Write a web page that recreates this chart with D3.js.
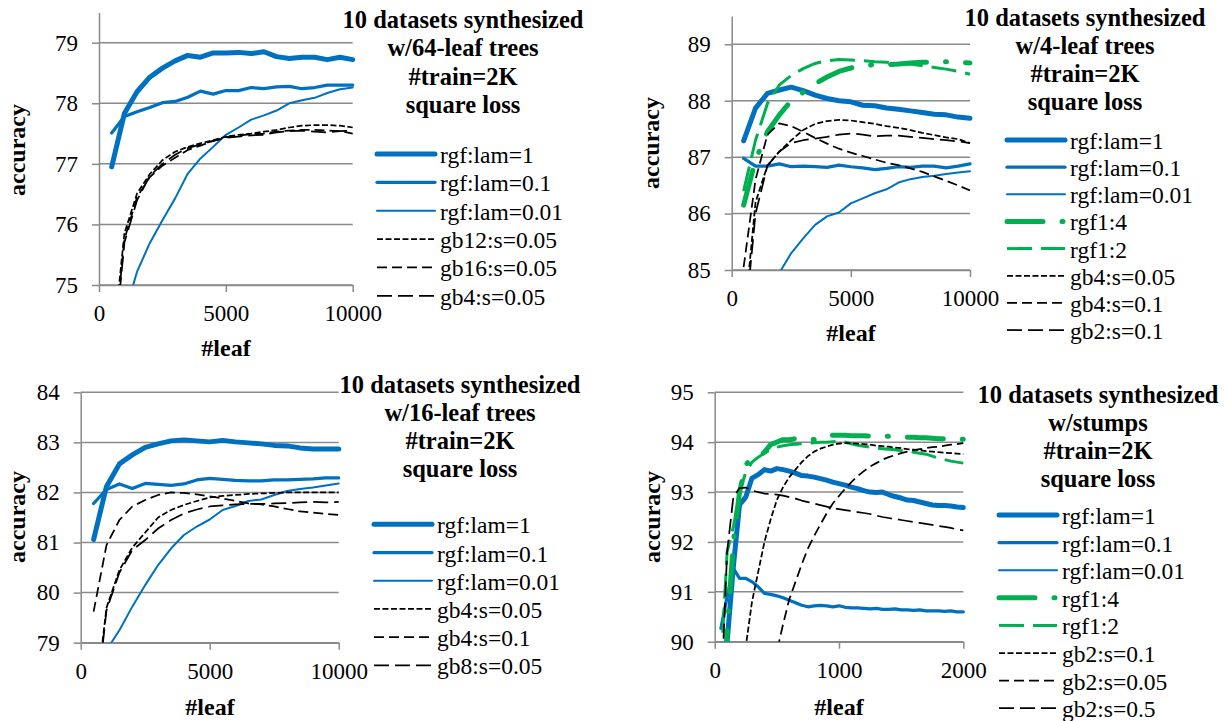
<!DOCTYPE html>
<html>
<head>
<meta charset="utf-8">
<script src="https://cdn.jsdelivr.net/npm/d3@7"></script>
<style>
body { margin: 0; background: #fff; }
svg text { font-family: "Liberation Serif", "DejaVu Serif", "Times New Roman", serif !important; }
</style>
</head>
<body>
<svg id="chart" width="1227" height="721" font-family="Liberation Serif, serif"></svg>
<script>
// x values (#leaf)
const leaves10k = [500, 1000, 1500, 2000, 2500, 3000, 3500, 4000, 4500, 5000,
  5500, 6000, 6500, 7000, 7500, 8000, 8500, 9000, 9500, 10000];
const leaves2k = [50, 100, 150, 200, 250, 300, 350, 400, 450, 500, 550, 600, 650, 700, 750,
  800, 850, 900, 950, 1000, 1050, 1100, 1150, 1200, 1250, 1300, 1350, 1400, 1450, 1500,
  1550, 1600, 1650, 1700, 1750, 1800, 1850, 1900, 1950, 2000];

// panel 1: 64-leaf trees
const leaf64Labels = ["rgf:lam=1", "rgf:lam=0.1", "rgf:lam=0.01", "gb12:s=0.05", "gb16:s=0.05", "gb4:s=0.05"];
const leaf64_rgf1 = [76.95, 77.83, 78.19, 78.43, 78.58, 78.70, 78.79, 78.76, 78.83, 78.83, 78.84, 78.82, 78.85, 78.77, 78.74, 78.76, 78.76, 78.72, 78.76, 78.72];
const leaf64_rgf01 = [77.51, 77.78, 77.86, 77.93, 78.01, 78.03, 78.10, 78.20, 78.15, 78.21, 78.21, 78.26, 78.24, 78.27, 78.28, 78.24, 78.26, 78.30, 78.30, 78.30];
const leaf64_rgf001 = [73.5, 74.5, 75.22, 75.69, 76.07, 76.43, 76.84, 77.09, 77.28, 77.48, 77.60, 77.73, 77.80, 77.88, 78.00, 78.05, 78.09, 78.17, 78.23, 78.26];
const leaf64_gb12 = [73.8, 75.85, 76.51, 76.83, 77.06, 77.20, 77.28, 77.34, 77.39, 77.45, 77.48, 77.50, 77.53, 77.56, 77.60, 77.63, 77.64, 77.64, 77.63, 77.60];
const leaf64_gb16 = [73.6, 75.75, 76.45, 76.78, 76.97, 77.10, 77.23, 77.30, 77.38, 77.44, 77.47, 77.49, 77.50, 77.53, 77.55, 77.56, 77.56, 77.55, 77.54, 77.50];
const leaf64_gb4 = [73.5, 75.7, 76.4, 76.8, 77.0, 77.15, 77.26, 77.32, 77.38, 77.43, 77.45, 77.47, 77.48, 77.52, 77.54, 77.55, 77.53, 77.52, 77.54, 77.55];

// panel 2: 4-leaf trees
const leaf4Labels = ["rgf:lam=1", "rgf:lam=0.1", "rgf:lam=0.01", "rgf1:4", "rgf1:2", "gb4:s=0.05", "gb4:s=0.1", "gb2:s=0.1"];
const leaf4_rgf1 = [87.29, 87.87, 88.13, 88.19, 88.24, 88.18, 88.10, 88.04, 88.00, 87.98, 87.92, 87.91, 87.87, 87.85, 87.82, 87.79, 87.76, 87.75, 87.71, 87.69];
const leaf4_rgf01 = [86.98, 86.84, 86.84, 86.88, 86.83, 86.84, 86.83, 86.82, 86.86, 86.83, 86.81, 86.78, 86.80, 86.83, 86.82, 86.84, 86.84, 86.81, 86.84, 86.88];
const leaf4_rgf001 = [83.8, 84.2, 84.6, 84.95, 85.30, 85.56, 85.80, 85.95, 86.02, 86.18, 86.27, 86.36, 86.43, 86.55, 86.61, 86.65, 86.67, 86.70, 86.73, 86.75];
const leaf4_rgf1_4 = [86.15, 86.95, 87.45, 87.75, 88.0, 88.15, 88.3, 88.42, 88.52, 88.58, 88.62, 88.64, 88.64, 88.65, 88.67, 88.68, 88.69, 88.69, 88.68, 88.67];
const leaf4_rgf1_2 = [86.4, 87.3, 87.95, 88.28, 88.45, 88.57, 88.66, 88.71, 88.73, 88.72, 88.71, 88.69, 88.68, 88.66, 88.65, 88.62, 88.59, 88.56, 88.52, 88.47];
const leaf4_gb4_005 = [84.0, 86.2, 86.85, 87.1, 87.3, 87.48, 87.59, 87.64, 87.66, 87.65, 87.62, 87.59, 87.55, 87.52, 87.48, 87.43, 87.39, 87.35, 87.32, 87.25];
const leaf4_gb4_01 = [85.05, 86.6, 87.4, 87.6, 87.55, 87.45, 87.34, 87.24, 87.15, 87.08, 87.02, 86.96, 86.9, 86.86, 86.8, 86.74, 86.66, 86.58, 86.5, 86.41];
const leaf4_gb2_01 = [83.8, 86.0, 86.85, 87.1, 87.25, 87.3, 87.33, 87.36, 87.4, 87.42, 87.4, 87.37, 87.38, 87.38, 87.36, 87.34, 87.32, 87.3, 87.28, 87.25];

// panel 3: 16-leaf trees
const leaf16Labels = ["rgf:lam=1", "rgf:lam=0.1", "rgf:lam=0.01", "gb4:s=0.05", "gb4:s=0.1", "gb8:s=0.05"];
const leaf16_rgf1 = [81.06, 82.12, 82.57, 82.75, 82.90, 82.97, 83.03, 83.05, 83.03, 83.01, 83.04, 83.01, 82.99, 82.97, 82.94, 82.93, 82.89, 82.87, 82.87, 82.87];
const leaf16_rgf01 = [81.78, 82.06, 82.17, 82.08, 82.18, 82.16, 82.14, 82.17, 82.25, 82.28, 82.26, 82.24, 82.23, 82.23, 82.25, 82.25, 82.26, 82.27, 82.29, 82.29];
const leaf16_rgf001 = [77.8, 78.85, 79.25, 79.72, 80.15, 80.55, 80.88, 81.15, 81.32, 81.46, 81.65, 81.73, 81.83, 81.86, 81.95, 82.03, 82.07, 82.10, 82.14, 82.18];
const leaf16_gb4_005 = [77.5, 79.7, 80.45, 80.9, 81.2, 81.5, 81.65, 81.75, 81.83, 81.9, 81.93, 81.95, 81.97, 81.98, 81.99, 82.0, 82.0, 82.0, 82.0, 82.0];
const leaf16_gb4_01 = [79.62, 80.95, 81.45, 81.72, 81.85, 81.95, 82.0, 81.99, 81.96, 81.92, 81.88, 81.83, 81.78, 81.76, 81.72, 81.67, 81.62, 81.6, 81.57, 81.55];
const leaf16_gb8_005 = [77.3, 79.65, 80.4, 80.85, 81.05, 81.28, 81.45, 81.58, 81.66, 81.72, 81.74, 81.76, 81.77, 81.77, 81.78, 81.79, 81.8, 81.81, 81.8, 81.81];

// panel 4: stumps
const stumpLabels = ["rgf:lam=1", "rgf:lam=0.1", "rgf:lam=0.01", "rgf1:4", "rgf1:2", "gb2:s=0.1", "gb2:s=0.05", "gb2:s=0.5"];
const stump_rgf1 = [88.5, 90.0, 91.5, 92.75, 92.9, 93.28, 93.35, 93.45, 93.42, 93.47, 93.45, 93.42, 93.38, 93.33, 93.32, 93.3, 93.27, 93.24, 93.2, 93.17,
  93.14, 93.1, 93.07, 93.03, 93.0, 92.99, 93.0, 92.95, 92.91, 92.88, 92.84, 92.83, 92.8, 92.77, 92.74, 92.73, 92.73, 92.72, 92.7, 92.69];
const stump_rgf01 = [90.27, 90.9, 91.47, 91.27, 91.27, 91.2, 91.1, 90.97, 90.95, 90.92, 90.88, 90.83, 90.78, 90.73, 90.70, 90.72, 90.73, 90.72, 90.70, 90.72,
  90.69, 90.68, 90.68, 90.67, 90.66, 90.67, 90.65, 90.65, 90.66, 90.64, 90.64, 90.63, 90.64, 90.62, 90.62, 90.62, 90.61, 90.62, 90.60, 90.60];
const stump_rgf001 = [80.5, 82.0, 83.1, 84.0, 84.7, 85.3, 85.8, 86.2, 86.6, 86.9, 87.1, 87.3, 87.5, 87.7, 87.8, 87.9, 88.0, 88.1, 88.2, 88.3,
  88.35, 88.4, 88.45, 88.5, 88.55, 88.6, 88.65, 88.7, 88.72, 88.75, 88.78, 88.8, 88.83, 88.85, 88.87, 88.9, 88.92, 88.94, 88.96, 88.98];
const stump_rgf1_4 = [88.0, 90.2, 92.0, 93.0, 93.55, 93.68, 93.7, 93.8, 93.95, 94.0, 94.05, 94.05, 94.07, 94.08, 94.06, 94.05, 94.1, 94.14, 94.14, 94.14,
  94.14, 94.13, 94.13, 94.13, 94.12, 94.12, 94.12, 94.12, 94.11, 94.11, 94.1, 94.1, 94.09, 94.09, 94.08, 94.07, 94.07, 94.06, 94.06, 94.06];
const stump_rgf1_2 = [89.5, 91.8, 92.3, 93.0, 93.4, 93.6, 93.7, 93.78, 93.85, 93.9, 93.93, 93.95, 93.96, 93.97, 93.98, 93.99, 94.0, 94.0, 94.01, 94.02,
  94.0, 93.97, 93.94, 93.92, 93.9, 93.88, 93.87, 93.86, 93.85, 93.83, 93.82, 93.8, 93.78, 93.76, 93.72, 93.68, 93.65, 93.62, 93.6, 93.58];
const stump_gb2_01 = [81.0, 84.0, 86.5, 88.5, 89.9, 90.8, 91.4, 92.0, 92.45, 92.84, 93.1, 93.3, 93.45, 93.6, 93.72, 93.81, 93.87, 93.91, 93.95, 93.97,
  93.98, 93.98, 93.97, 93.96, 93.95, 93.93, 93.92, 93.91, 93.89, 93.88, 93.86, 93.85, 93.84, 93.82, 93.81, 93.8, 93.79, 93.78, 93.77, 93.76];
const stump_gb2_005 = [80.0, 81.5, 83.0, 84.5, 85.8, 86.8, 87.7, 88.5, 89.2, 89.8, 90.35, 90.85, 91.2, 91.55, 91.87, 92.12, 92.35, 92.57, 92.77, 92.92,
  93.07, 93.2, 93.32, 93.42, 93.51, 93.58, 93.65, 93.7, 93.74, 93.78, 93.81, 93.84, 93.86, 93.88, 93.9, 93.91, 93.93, 93.95, 93.96, 93.98];
const stump_gb2_05 = [88.8, 91.8, 92.9, 93.08, 93.09, 93.03, 93.0, 92.97, 92.96, 92.95, 92.93, 92.9, 92.87, 92.83, 92.8, 92.77, 92.74, 92.71, 92.68, 92.66,
  92.64, 92.62, 92.6, 92.58, 92.56, 92.53, 92.5, 92.48, 92.46, 92.44, 92.42, 92.4, 92.38, 92.36, 92.34, 92.32, 92.3, 92.28, 92.25, 92.23];

const titles = [
  ["10 datasets synthesized", "w/64-leaf trees", "#train=2K", "square loss"],
  ["10 datasets synthesized", "w/4-leaf trees", "#train=2K", "square loss"],
  ["10 datasets synthesized", "w/16-leaf trees", "#train=2K", "square loss"],
  ["10 datasets synthesized", "w/stumps", "#train=2K", "square loss"]
];

const blue = "#0070c0", green = "#00b050", black = "#000";
const gridColor = "#8a8a8a";
const serif = "Liberation Serif, DejaVu Serif, serif";

const styles = {
  lam1:  { color: blue, width: 5, dash: null, cap: "round" },
  lam01: { color: blue, width: 3.25, dash: null, cap: "round" },
  lam001:{ color: blue, width: 2, dash: null, cap: "round" },
  r14:   { color: green, width: 5, dash: "36 19 1 19", cap: "round" },
  r12:   { color: green, width: 3, dash: "25 9", cap: "butt" },
  gbA:   { color: black, width: 1.75, dash: "6 2.5", cap: "butt" },
  gbB:   { color: black, width: 1.75, dash: "10 5", cap: "butt" },
  gbC:   { color: black, width: 1.75, dash: "15 6", cap: "butt" }
};

const panels = [
  { title: titles[0], titleX: 463, titleY: 28, titleStep: 28.4,
    x0: 99, x1: 352.7, xDomain: [0, 10000], xTicks: [0, 5000, 10000],
    yDomain: [75, 79.5], yRange: [285, 12.4], yTicks: [75, 76, 77, 78, 79],
    yLabel: [17, 150], xLabel: [226, 348],
    legX: 375, legY: 154, legStep: 28.35,
    leaves: leaves10k, labels: leaf64Labels,
    series: [[leaf64_rgf1, "lam1"], [leaf64_rgf01, "lam01"], [leaf64_rgf001, "lam001"],
             [leaf64_gb12, "gbA"], [leaf64_gb16, "gbB"], [leaf64_gb4, "gbC"]] },
  { title: titles[1], titleX: 1085, titleY: 26, titleStep: 28,
    x0: 731.7, x1: 970, xDomain: [0, 10000], xTicks: [0, 5000, 10000],
    yDomain: [85, 89.5], yRange: [270, 16.1], yTicks: [85, 86, 87, 88, 89],
    yLabel: [651, 143], xLabel: [851, 333],
    legX: 1005, legY: 140, legStep: 27.15,
    leaves: leaves10k, labels: leaf4Labels,
    series: [[leaf4_rgf1, "lam1"], [leaf4_rgf01, "lam01"], [leaf4_rgf001, "lam001"],
             [leaf4_rgf1_4, "r14"], [leaf4_rgf1_2, "r12"],
             [leaf4_gb4_005, "gbA"], [leaf4_gb4_01, "gbB"], [leaf4_gb2_01, "gbC"]] },
  { title: titles[2], titleX: 460, titleY: 393.3, titleStep: 28,
    x0: 80.7, x1: 338.7, xDomain: [0, 10000], xTicks: [0, 5000, 10000],
    yDomain: [79, 84], yRange: [642.7, 392.3], yTicks: [79, 80, 81, 82, 83, 84],
    yLabel: [17, 517], xLabel: [210, 707],
    legX: 372, legY: 524.3, legStep: 28.2,
    leaves: leaves10k, labels: leaf16Labels,
    series: [[leaf16_rgf1, "lam1"], [leaf16_rgf01, "lam01"], [leaf16_rgf001, "lam001"],
             [leaf16_gb4_005, "gbA"], [leaf16_gb4_01, "gbB"], [leaf16_gb8_005, "gbC"]] },
  { title: titles[3], titleX: 1098, titleY: 403.3, titleStep: 27.8,
    x0: 714.7, x1: 963.3, xDomain: [0, 2000], xTicks: [0, 1000, 2000],
    yDomain: [90, 95], yRange: [641.7, 392.3], yTicks: [90, 91, 92, 93, 94, 95],
    yLabel: [652, 517], xLabel: [839, 707],
    legX: 997, legY: 515, legStep: 27.6,
    leaves: leaves2k, labels: stumpLabels,
    series: [[stump_rgf1, "lam1"], [stump_rgf01, "lam01"], [stump_rgf001, "lam001"],
             [stump_rgf1_4, "r14"], [stump_rgf1_2, "r12"],
             [stump_gb2_01, "gbA"], [stump_gb2_005, "gbB"], [stump_gb2_05, "gbC"]] }
];

const svg = d3.select("#chart");

function styleLine(sel, st) {
  sel.attr("fill", "none")
    .attr("stroke", st.color)
    .attr("stroke-width", st.width)
    .attr("stroke-dasharray", st.dash)
    .attr("stroke-linecap", st.cap)
    .attr("stroke-linejoin", "round");
}

function drawPanel(p, idx) {
  const x = d3.scaleLinear().domain(p.xDomain).range([p.x0, p.x1]);
  const y = d3.scaleLinear().domain(p.yDomain).range(p.yRange);
  const g = svg.append("g");

  // horizontal gridlines
  g.selectAll("line.grid")
    .data(p.yTicks)
    .join("line")
    .attr("class", "grid")
    .attr("x1", p.x0).attr("x2", p.x1)
    .attr("y1", d => y(d)).attr("y2", d => y(d))
    .attr("stroke", gridColor).attr("stroke-width", 1.5);

  const yAxis = g.append("g")
    .attr("transform", "translate(" + p.x0 + ",0)")
    .call(d3.axisLeft(y).tickValues(p.yTicks).tickSizeInner(7).tickSizeOuter(0)
      .tickPadding(14).tickFormat(d3.format("d")));

  const xAxis = g.append("g")
    .attr("transform", "translate(0," + y(p.yDomain[0]) + ")")
    .call(d3.axisBottom(x).tickValues(p.xTicks).tickSizeInner(7).tickSizeOuter(0)
      .tickPadding(13).tickFormat(d3.format("d")));

  [yAxis, xAxis].forEach(a => {
    a.attr("font-family", serif).attr("font-size", 23);
    a.selectAll("path, line").attr("stroke", gridColor).attr("stroke-width", 1.5);
    a.selectAll("text").attr("fill", "#000").attr("font-family", serif);
  });

  // clip to plot area
  const clipId = "clip" + idx;
  svg.append("clipPath").attr("id", clipId)
    .append("rect")
    .attr("x", p.x0 - 4).attr("width", p.x1 - p.x0 + 8)
    .attr("y", p.yRange[1]).attr("height", p.yRange[0] - p.yRange[1]);

  const line = d3.line().x(d => x(d[0])).y(d => y(d[1]));

  p.series.forEach(([vals, key]) => {
    g.append("path")
      .datum(vals.map((v, i) => [p.leaves[i], v]))
      .attr("clip-path", "url(#" + clipId + ")")
      .attr("d", line)
      .call(styleLine, styles[key]);
  });

  // title
  g.append("text")
    .attr("text-anchor", "middle")
    .attr("font-family", serif)
    .attr("font-weight", "bold")
    .attr("font-size", 24.5)
    .selectAll("tspan")
    .data(p.title)
    .join("tspan")
    .attr("x", p.titleX)
    .attr("y", (d, i) => p.titleY + i * p.titleStep)
    .text(d => d);

  // legend
  const leg = g.selectAll("g.leg")
    .data(p.series)
    .join("g")
    .attr("class", "leg")
    .attr("transform", (d, i) => "translate(" + p.legX + "," + (p.legY + i * p.legStep) + ")");

  leg.append("line")
    .attr("x1", 2).attr("x2", 60)
    .attr("y1", 0).attr("y2", 0)
    .each(function (d) { d3.select(this).call(styleLine, styles[d[1]]); });

  leg.append("text")
    .attr("x", 65).attr("y", 9)
    .attr("font-family", serif)
    .attr("font-size", 23.5)
    .text((d, i) => p.labels[i]);

  // axis titles
  g.append("text")
    .attr("transform", "translate(" + p.yLabel[0] + "," + p.yLabel[1] + ") rotate(-90)")
    .attr("text-anchor", "middle")
    .attr("dominant-baseline", "central")
    .attr("font-family", serif)
    .attr("font-weight", "bold")
    .attr("font-size", 24)
    .text("accuracy");

  g.append("text")
    .attr("x", p.xLabel[0]).attr("y", p.xLabel[1])
    .attr("text-anchor", "middle")
    .attr("dominant-baseline", "central")
    .attr("font-family", serif)
    .attr("font-weight", "bold")
    .attr("font-size", 24)
    .text("#leaf");
}

panels.forEach(drawPanel);
</script>
</body>
</html>
